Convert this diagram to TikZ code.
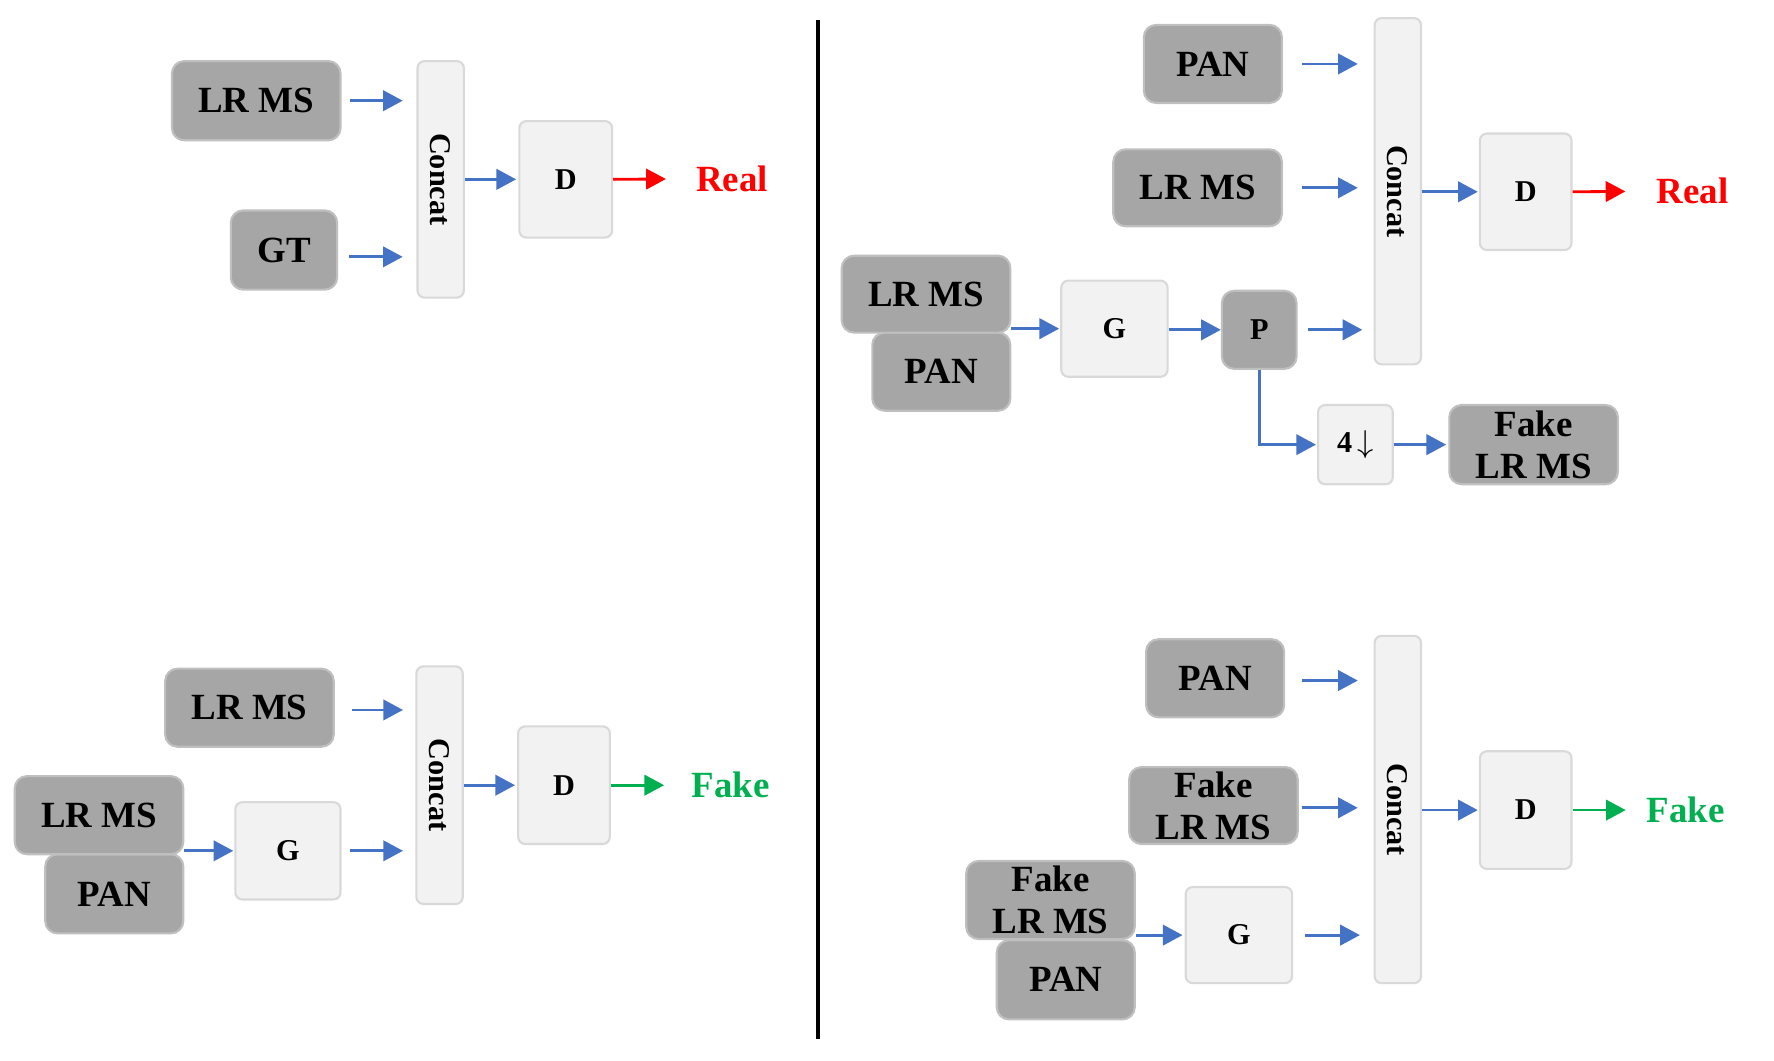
\documentclass[tikz,border=0pt]{standalone}
\usepackage{fontspec}
\usepackage{graphicx}
\setmainfont{Liberation Serif}
\usetikzlibrary{arrows.meta}
\definecolor{dk}{HTML}{A6A6A6}
\definecolor{dkb}{HTML}{BFBFBF}
\definecolor{lt}{HTML}{F2F2F2}
\definecolor{ltb}{HTML}{D9D9D9}
\definecolor{bl}{HTML}{4472C4}
\definecolor{rd}{HTML}{FF0000}
\definecolor{gr}{HTML}{00B050}
\newcommand\U{0.011314cm}
\newcommand\bx[7]{\node[#6, minimum width={(#4-#2)*\U}, minimum height={(#5-#3)*\U}] (#1) at ({(#2+#4)/2},{(#3+#5)/2}) {#7};}
\tikzset{
  dark/.style={draw=dkb, fill=dk, rounded corners=3.5pt, inner sep=0pt, line width=0.6pt,
    font=\fontsize{10.5}{12}\selectfont\bfseries, align=center},
  light/.style={draw=ltb, fill=lt, rounded corners=2pt, inner sep=0pt, line width=0.6pt,
    font=\fontsize{8.6}{10}\selectfont\bfseries},
  small/.style={font=\fontsize{8.6}{10}\selectfont\bfseries},
  arr/.style={draw=bl, line width=0.8pt, -{Triangle[length=5.6pt,width=5.8pt]}},
  outtxt/.style={inner sep=0pt, font=\fontsize{10.5}{12}\selectfont\bfseries},
}
\begin{document}
\begin{tikzpicture}[x=\U, y=-\U]
\useasboundingbox (0,0) rectangle (1568,937);

% ---------- top-left ----------
\bx{a1}{152}{54}{301}{124}{dark}{LR MS}
\bx{a2}{204}{186}{298}{256}{dark}{GT}
\bx{ac}{369}{54}{410}{263}{light}{\rotatebox{-90}{Concat}}
\bx{ad}{459}{107}{541}{210}{light}{D}
\node[outtxt, text=rd] (ar) at (647,158) {Real};
\draw[arr, shorten <=2.3pt, shorten >=3.9pt] (a1.east) -- (a1.east -| ac.west);
\draw[arr, shorten <=3.2pt, shorten >=3.9pt] ([yshift=-6*\U]a2.east) -- ([yshift=-6*\U]a2.east -| ac.west);
\draw[arr, shorten >=0.6pt] (ac.east) -- (ad.west);
\draw[arr, draw=rd, shorten >=8.4pt] (ad.east) -- (ar.west);

% ---------- bottom-left ----------
\bx{b1}{146}{591}{295}{660}{dark}{LR MS}
\bx{b3}{40}{755}{162}{825}{dark}{PAN}
\bx{b2}{13}{686}{162}{755}{dark}{LR MS}
\bx{bg}{208}{709}{301}{795}{light}{G}
\bx{bc}{368}{589}{409}{799}{light}{\rotatebox{-90}{Concat}}
\bx{bd}{458}{642}{539}{746}{light}{D}
\node[outtxt, text=gr] (bf) at (646,694) {Fake};
\draw[arr, shorten <=4.8pt, shorten >=3.5pt] ([yshift=-2*\U]b1.east) -- ([yshift=-2*\U]b1.east -| bc.west);
\draw[arr, shorten >=0.3pt] (bg.west -| b2.east) -- (bg.west);
\draw[arr, shorten <=2.3pt, shorten >=3.5pt] (bg.east) -- (bg.east -| bc.west);
\draw[arr, shorten >=0.6pt] (bc.east |- bd.west) -- (bd.west);
\draw[arr, draw=gr, shorten >=7.7pt] (bd.east) -- (bf.west);

% ---------- divider ----------
\draw[line width=1.1pt] (723,18) -- (723,918);

% ---------- top-right ----------
\bx{c1}{1011}{22}{1133}{91}{dark}{PAN}
\bx{c2}{984}{132}{1133}{200}{dark}{LR MS}
\bx{cc}{1215}{16}{1256}{322}{light}{\rotatebox{-90}{Concat}}
\bx{cd}{1308}{118}{1389}{221}{light}{D}
\node[outtxt, text=rd] (cr) at (1496,169) {Real};
\bx{c4}{771}{294}{893}{363}{dark}{PAN}
\bx{c3}{744}{226}{893}{294}{dark}{LR MS}
\bx{cg}{938}{248}{1032}{333}{light}{G}
\bx{cp}{1080}{257}{1146}{326}{dark,small}{P}
\bx{cdn}{1165}{358}{1231}{428}{light}{4\,$\downarrow$}
\bx{cf}{1281}{358}{1430}{428}{dark}{Fake\\LR MS}
\draw[arr, shorten <=5.5pt, shorten >=4.5pt] (c1.east) -- (c1.east -| cc.west);
\draw[arr, shorten <=5.5pt, shorten >=4.5pt] (c2.east) -- (c2.east -| cc.west);
\draw[arr, shorten >=0.3pt] (cc.east |- cd.west) -- (cd.west);
\draw[arr, draw=rd, shorten >=8.7pt] (cd.east) -- (cr.west);
\draw[arr, shorten >=0.3pt] (cg.west -| c3.east) -- (cg.west);
\draw[arr] (cg.east |- cp.west) -- (cp.west);
\draw[arr, shorten <=2.9pt, shorten >=3.2pt] (cp.east) -- (cp.east -| cc.west);
\draw[arr, shorten >=0.3pt] (cp.south) |- (cdn.west);
\draw[arr, shorten >=0.6pt] (cdn.east) -- (cf.west);

% ---------- bottom-right ----------
\bx{d1}{1013}{565}{1135}{634}{dark}{PAN}
\bx{d2}{998}{678}{1147}{746}{dark}{Fake\\LR MS}
\bx{dc}{1215}{562}{1256}{869}{light}{\rotatebox{-90}{Concat}}
\bx{dd}{1308}{664}{1389}{768}{light}{D}
\node[outtxt, text=gr] (df) at (1490,716) {Fake};
\bx{d4}{881}{831}{1003}{901}{dark}{PAN}
\bx{d3}{854}{761}{1003}{830}{dark}{Fake\\LR MS}
\bx{dg}{1048}{784}{1142}{869}{light}{G}
\draw[arr, shorten <=4.8pt, shorten >=4.5pt] ([yshift=-2*\U]d1.east) -- ([yshift=-2*\U]d1.east -| dc.west);
\draw[arr, shorten <=1pt, shorten >=4.5pt] ([yshift=-2*\U]d2.east) -- ([yshift=-2*\U]d2.east -| dc.west);
\draw[arr, shorten >=0.3pt] (dc.east |- dd.west) -- (dd.west);
\draw[arr, draw=gr, shorten >=5.8pt] (dd.east) -- (df.west);
\draw[arr, shorten >=0.6pt] (dg.west -| d3.east) -- (dg.west);
\draw[arr, shorten <=3.5pt, shorten >=3.9pt] (dg.east) -- (dg.east -| dc.west);
\end{tikzpicture}
\end{document}
